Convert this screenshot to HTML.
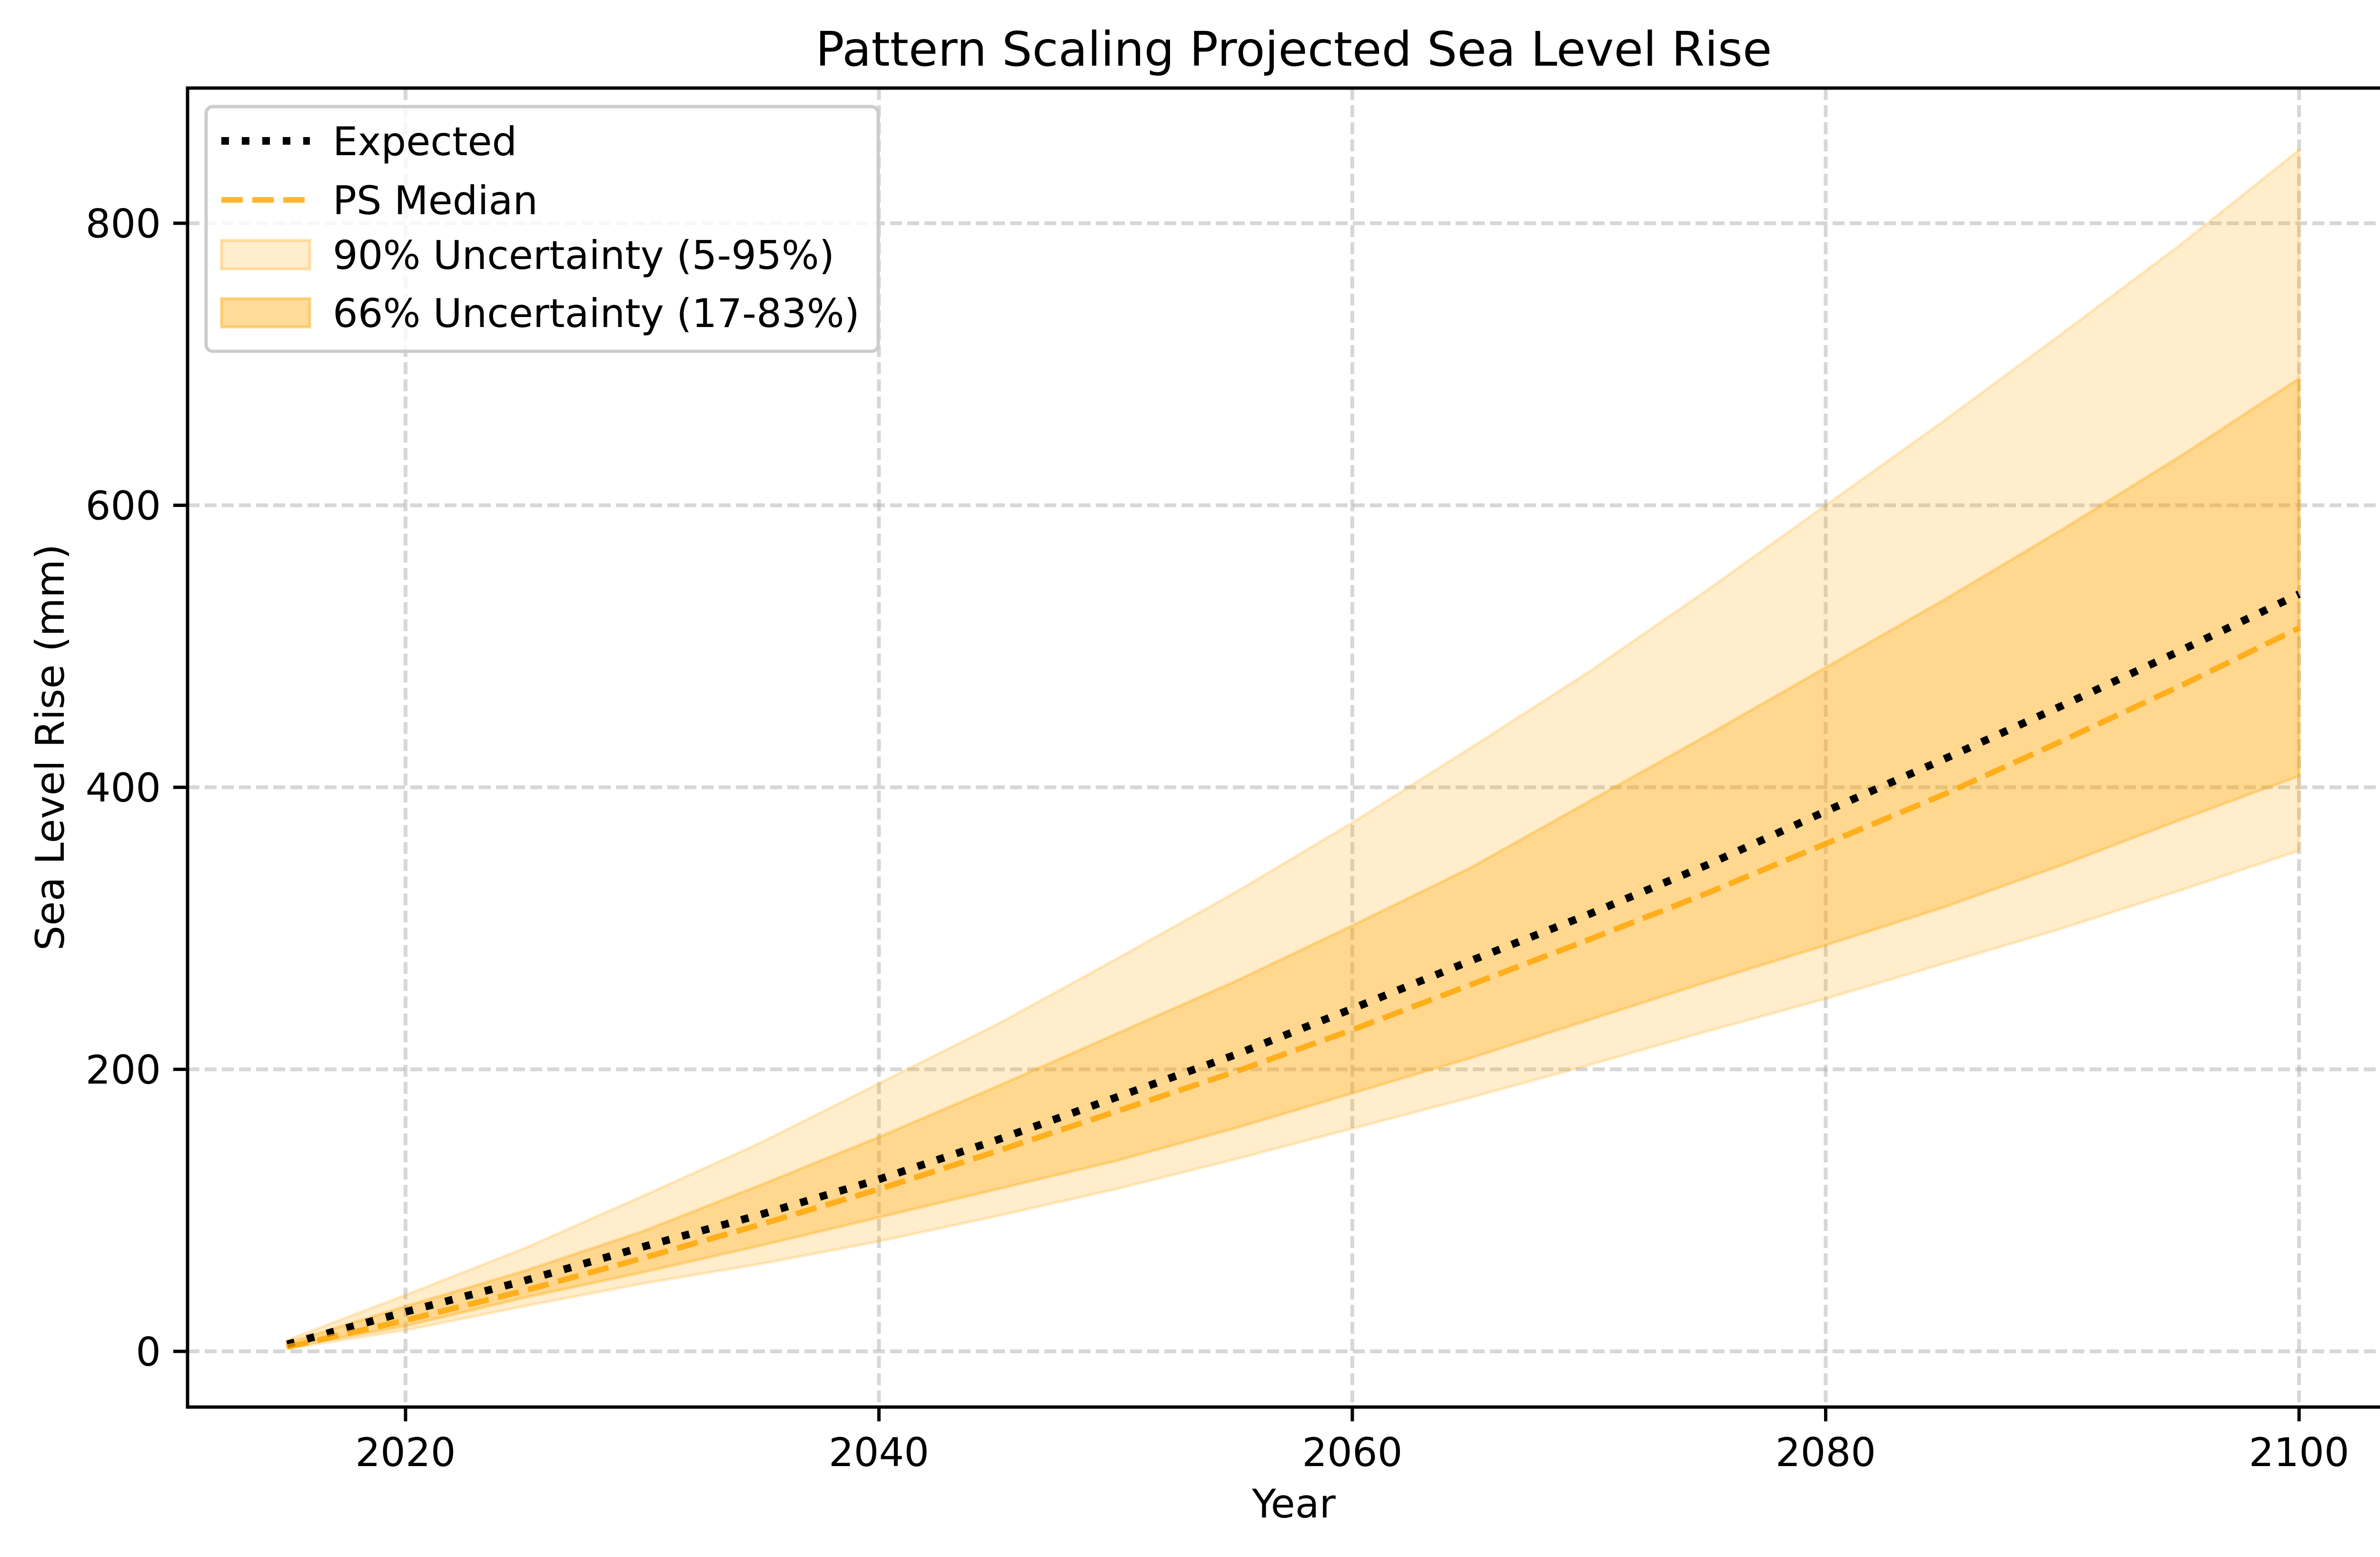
<!DOCTYPE html>
<html><head><meta charset="utf-8"><style>
html,body{margin:0;padding:0;background:#fff;}
svg{display:block;font-family:"DejaVu Sans","Liberation Sans",sans-serif;}
</style></head><body>
<svg id="chart" width="5101" height="3271" viewBox="0 0 5101 3271">
<rect width="5101" height="3271" fill="#fff"/>
<g id="grid"></g>
<g id="bands"></g>
<g id="lines"></g>
<rect x="394" y="185" width="4649" height="2771" fill="none" stroke="#000" stroke-width="7"/>
<g id="ticks"></g>
<text x="2718" y="138" font-size="100" text-anchor="middle">Pattern Scaling Projected Sea Level Rise</text>
<text x="2718" y="3188" font-size="83" text-anchor="middle">Year</text>
<text transform="translate(134,1570) rotate(-90)" font-size="83" text-anchor="middle">Sea Level Rise (mm)</text>
<g>
<rect x="433" y="224" width="1412" height="514" rx="14" fill="#fff" fill-opacity="0.8" stroke="#ccc" stroke-width="7"/>
<line x1="465" y1="296" x2="651" y2="296" stroke="#000" stroke-width="16" stroke-dasharray="16 27"/>
<text x="699" y="326" font-size="83">Expected</text>
<line x1="465" y1="420" x2="651" y2="420" stroke="#FFA500" stroke-opacity="0.8" stroke-width="12" stroke-dasharray="45 20"/>
<text x="699" y="450" font-size="83">PS Median</text>
<rect x="465" y="505" width="186" height="60" fill="#FFA500" fill-opacity="0.2" stroke="#FFA500" stroke-opacity="0.3" stroke-width="6"/>
<text x="699" y="565" font-size="83">90% Uncertainty (5-95%)</text>
<rect x="465" y="627" width="186" height="60" fill="#FFA500" fill-opacity="0.4" stroke="#FFA500" stroke-opacity="0.4" stroke-width="6"/>
<text x="699" y="687" font-size="83">66% Uncertainty (17-83%)</text>
</g>
</svg>
<script>
const years=[2015,2020,2025,2030,2035,2040,2045,2050,2055,2060,2065,2070,2075,2080,2085,2090,2095,2100];
const expected=[5,28,50,74,97,122,150,180,210,243,277,310,345,383,420,458,497,537];
const median=[3,22,43,66,90,115,142,170,198,228,260,292,325,360,395,433,472,513];
const p95=[8,40,73,110,148,190,232,278,325,375,428,482,540,600,660,722,785,852];
const p05=[2,15,32,48,62,78,96,115,136,158,180,203,227,250,275,300,327,355];
const p83=[6,32,57,85,118,152,188,225,262,302,343,390,437,485,533,583,635,690];
const p17=[3,18,38,56,75,95,115,135,158,183,208,235,262,288,315,345,377,408];
const xTicks=[2020,2040,2060,2080,2100];
const yTicks=[0,200,400,600,800];

const NS='http://www.w3.org/2000/svg';
const X=v=>852+(v-2020)*(4830-852)/80;
const Y=v=>2839-v*(2839-469)/800;
function mk(tag,parent,attrs){const e=document.createElementNS(NS,tag);for(const k in attrs)e.setAttribute(k,attrs[k]);document.getElementById(parent).appendChild(e);return e;}

xTicks.forEach(t=>{
  const g=mk('line','grid',{x1:X(t),x2:X(t),y1:185,y2:2956,stroke:'#b0b0b0','stroke-opacity':0.5,'stroke-width':8,'stroke-dasharray':'25 11'});
  
  
  const tk=mk('line','ticks',{x1:X(t),x2:X(t),y1:2956,y2:2986,stroke:'#000','stroke-width':7});
  
  
  const tl=mk('text','ticks',{x:X(t),y:3080,'font-size':83,'text-anchor':'middle'});
  tl.textContent=t;
  
  
});
yTicks.forEach(t=>{
  const g=mk('line','grid',{x1:394,x2:5043,y1:Y(t),y2:Y(t),stroke:'#b0b0b0','stroke-opacity':0.5,'stroke-width':8,'stroke-dasharray':'25 11'});
  
  
  const tk=mk('line','ticks',{x1:364,x2:394,y1:Y(t),y2:Y(t),stroke:'#000','stroke-width':7});
  
  
  const tl=mk('text','ticks',{x:338,y:Y(t)+30,'font-size':83,'text-anchor':'end'});
  tl.textContent=t;
  
  
});
function band(lo,hi,op,name){
  let d='M'+years.map((y,i)=>X(y)+','+Y(hi[i])).join('L');
  for(let i=years.length-1;i>=0;i--)d+='L'+X(years[i])+','+Y(lo[i]);
  const p=mk('path','bands',{d:d+'Z',fill:'#FFA500','fill-opacity':op,stroke:'#FFA500','stroke-opacity':op,'stroke-width':6});
  
  
}
band(p05,p95,0.2,'band-90');
band(p17,p83,0.3,'band-66');
function line(vals,attrs,name){
  const p=mk('path','lines',Object.assign({d:'M'+years.map((y,i)=>X(y)+','+Y(vals[i])).join('L'),fill:'none'},attrs));
  
  
}
line(expected,{stroke:'#000','stroke-width':16,'stroke-dasharray':'16 27'},'expected-line');
line(median,{stroke:'#FFA500','stroke-opacity':0.8,'stroke-width':12,'stroke-dasharray':'45 20'},'median-line');
</script>
</body></html>
